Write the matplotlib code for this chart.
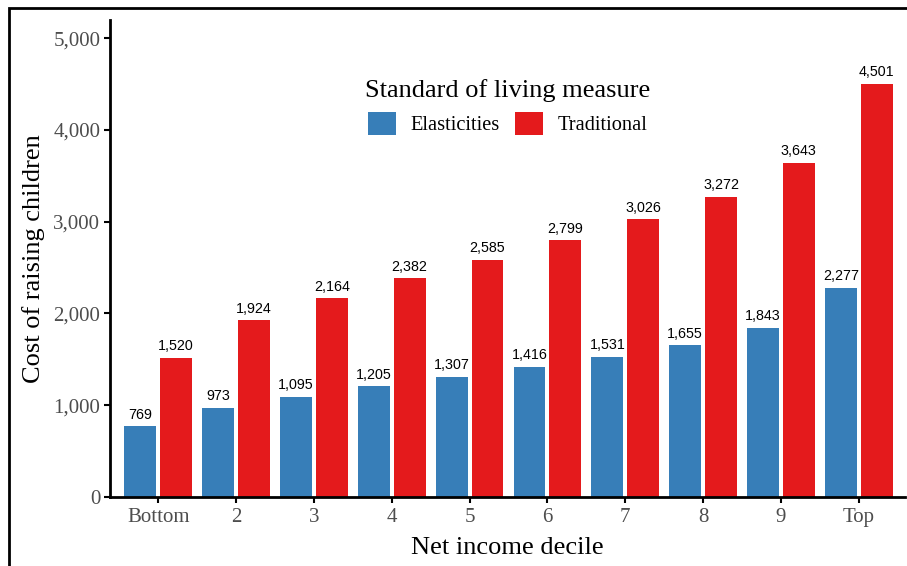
import matplotlib.pyplot as plt
import numpy as np
from matplotlib.patches import Rectangle

# datos
deciles = ['Bottom', '2', '3', '4', '5', '6', '7', '8', '9', 'Top']
elasticities = [769, 973, 1095, 1205, 1307, 1416, 1531, 1655, 1843, 2277]
traditional = [1520, 1924, 2164, 2382, 2585, 2799, 3026, 3272, 3643, 4501]

c_blue = '#377EB8'
c_red = '#E41A1C'
serif = 'Liberation Serif'

fig = plt.figure(figsize=(9.07, 5.66), dpi=100)
ax = fig.add_axes([0.1213, 0.1219, 0.877, 0.843])

x = np.arange(len(deciles))
w = 0.41
off = 0.23
b1 = ax.bar(x - off, elasticities, w, color=c_blue, label='Elasticities')
b2 = ax.bar(x + off, traditional, w, color=c_red, label='Traditional')

# etiquetas sobre las barras
for bars, vals in [(b1, elasticities), (b2, traditional)]:
    for r, v in zip(bars, vals):
        ax.text(r.get_x() + r.get_width() / 2, v + 50, format(v, ','),
                ha='center', va='bottom', fontsize=10.3, family='Liberation Sans',
                color='black')

ax.set_xlim(-0.62, 9.6)
ax.set_ylim(0, 5200)
ax.set_yticks([0, 1000, 2000, 3000, 4000, 5000])
ax.set_yticklabels(['0', '1,000', '2,000', '3,000', '4,000', '5,000'])
ax.set_xticks(x)
ax.set_xticklabels(deciles)

for lab in ax.get_xticklabels() + ax.get_yticklabels():
    lab.set_family(serif)
    lab.set_fontsize(15)
    lab.set_color('#4D4D4D')

ax.tick_params(length=4, width=1.5, color='black', pad=3)
ax.tick_params(axis='x', pad=4)
ax.spines['top'].set_visible(False)
ax.spines['right'].set_visible(False)
ax.spines['left'].set_linewidth(2)
ax.spines['bottom'].set_linewidth(2)

ax.set_xlabel('Net income decile', family=serif, fontsize=19, labelpad=7)
ax.set_ylabel('Cost of raising children', family=serif, fontsize=19, labelpad=6)

leg = ax.legend(loc='upper center', bbox_to_anchor=(0.5, 0.915), ncol=2,
                frameon=False, title='Standard of living measure',
                prop={'family': serif, 'size': 14.7},
                handlelength=1.37, handleheight=1.37, columnspacing=0.75,
                handletextpad=0.7)
leg.get_title().set_family(serif)
leg.get_title().set_fontsize(19)

# marco exterior
fig.patches.append(Rectangle((9 / 907, -0.1), 1.2, (566 - 8) / 566 + 0.1,
                             transform=fig.transFigure, fill=False,
                             edgecolor='black', linewidth=2, zorder=10))

fig.savefig('out.png', dpi=100)
